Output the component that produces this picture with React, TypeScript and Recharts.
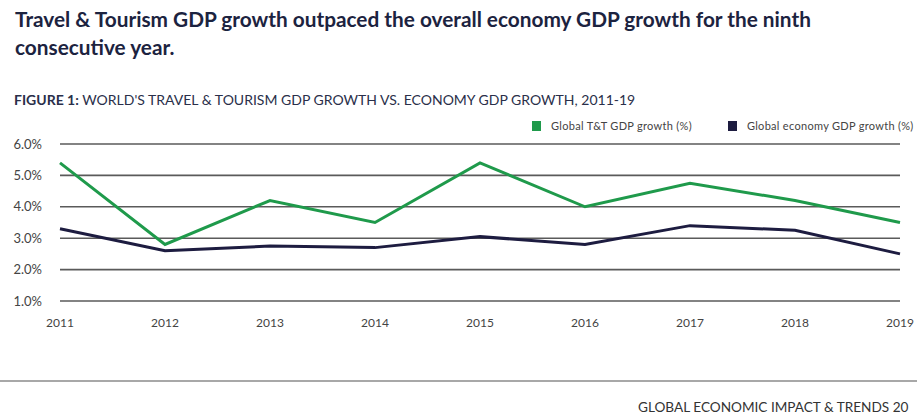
import React from 'react';
import { LineChart, Line, XAxis, YAxis, CartesianGrid } from 'recharts';

const years = ['2011', '2012', '2013', '2014', '2015', '2016', '2017', '2018', '2019'];
const ttGrowth = [5.4, 2.8, 4.2, 3.5, 5.4, 4.0, 4.75, 4.2, 3.5];
const economyGrowth = [3.3, 2.6, 2.75, 2.7, 3.05, 2.8, 3.4, 3.25, 2.5];
const yTicks = [1, 2, 3, 4, 5, 6];

const GREEN = '#1f9a4b';
const NAVY = '#1d1c40';
const FONT = 'Lato, "Open Sans", sans-serif';

const data = years.map((year, i) => ({
  year,
  tt: ttGrowth[i],
  economy: economyGrowth[i],
}));

const LegendItem = ({ color, label }: { color: string; label: string }) => (
  <div style={{ display: 'flex', alignItems: 'center' }}>
    <span style={{ width: 9, height: 10, background: color, display: 'inline-block', marginRight: 10 }} />
    <span style={{ fontSize: 11, color: '#444', letterSpacing: 0.3 }}>{label}</span>
  </div>
);

export default function App() {
  return (
    <div
      style={{
        position: 'absolute',
        left: 0,
        top: 0,
        width: 917,
        height: 418,
        background: '#fff',
        fontFamily: FONT,
        overflow: 'hidden',
      }}
    >
      <div
        style={{
          position: 'absolute',
          left: 15,
          top: 5,
          fontSize: 20.8,
          fontWeight: 700,
          lineHeight: '28px',
          color: '#1c2340',
          whiteSpace: 'nowrap',
        }}
      >
        Travel &amp; Tourism GDP growth outpaced the overall economy GDP growth for the ninth
        <br />
        consecutive year.
      </div>
      <div
        style={{
          position: 'absolute',
          left: 14,
          top: 91,
          fontSize: 14,
          color: '#2a2f4a',
          whiteSpace: 'nowrap',
        }}
      >
        <b>FIGURE 1:</b> WORLD'S TRAVEL &amp; TOURISM GDP GROWTH VS. ECONOMY GDP GROWTH, 2011-19
      </div>
      <div style={{ position: 'absolute', left: 532, top: 119, display: 'flex', gap: 36 }}>
        <LegendItem color={GREEN} label="Global T&T GDP growth (%)" />
        <LegendItem color={NAVY} label="Global economy GDP growth (%)" />
      </div>

      <div style={{ position: 'absolute', left: 0, top: 0 }}>
        <LineChart
          width={917}
          height={418}
          data={data}
          margin={{ top: 144, right: 17, bottom: 87, left: 0 }}
        >
          <CartesianGrid horizontal vertical={false} stroke="#5a5a5a" strokeWidth={1.6} />
          <XAxis
            dataKey="year"
            height={30}
            axisLine={false}
            tickLine={false}
            tickSize={0}
            tickMargin={17}
            interval={0}
            tick={{ fontSize: 12, fill: '#444', fontFamily: FONT }}
          />
          <YAxis
            width={60}
            domain={[1, 6]}
            ticks={yTicks}
            axisLine={false}
            tickLine={false}
            tickSize={0}
            tickMargin={18}
            tickFormatter={(v: number) => `${v.toFixed(1)}%`}
            tick={{ fontSize: 13, fill: '#444', fontFamily: FONT }}
          />
          <Line
            type="linear"
            dataKey="tt"
            stroke={GREEN}
            strokeWidth={3}
            dot={false}
            isAnimationActive={false}
          />
          <Line
            type="linear"
            dataKey="economy"
            stroke={NAVY}
            strokeWidth={3}
            dot={false}
            isAnimationActive={false}
          />
        </LineChart>
      </div>

      <div
        style={{
          position: 'absolute',
          left: 0,
          top: 380,
          width: 917,
          height: 2,
          background: '#a8a8a8',
        }}
      />
      <div
        style={{
          position: 'absolute',
          left: 638,
          top: 399,
          fontSize: 13.6,
          color: '#333',
          whiteSpace: 'nowrap',
        }}
      >
        GLOBAL ECONOMIC IMPACT &amp; TRENDS 20
      </div>
    </div>
  );
}
